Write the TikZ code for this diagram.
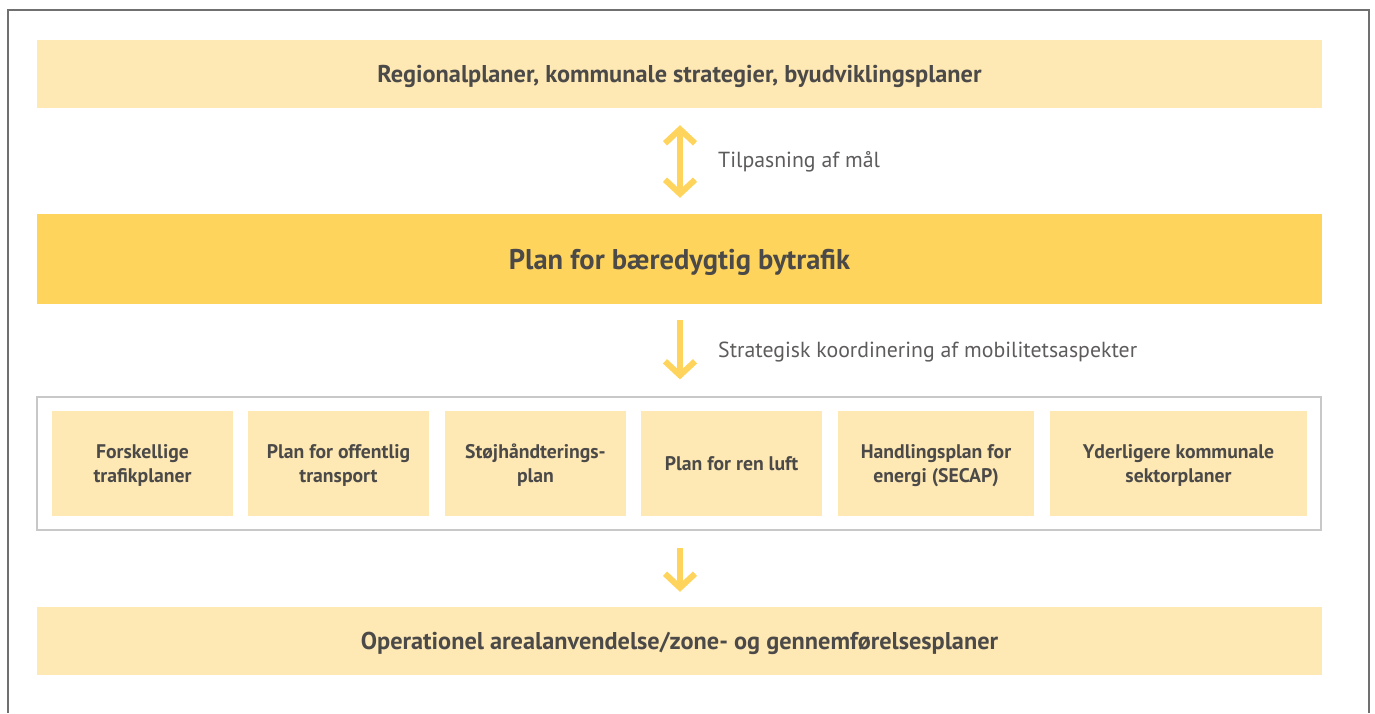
\documentclass[tikz,border=0pt]{standalone}
\usepackage{fontspec}
\setmainfont{PT Sans}
\usetikzlibrary{arrows.meta}
\definecolor{paleyellow}{HTML}{FEE8B4}
\definecolor{gold}{HTML}{FFD45C}
\definecolor{inktext}{HTML}{4B4A48}
\definecolor{labeltext}{HTML}{5E5B5B}
\definecolor{framegray}{HTML}{707070}
\definecolor{boxgray}{HTML}{C8C8C8}
\tikzset{
  band/.style={fill=paleyellow, draw=none, minimum width=1285pt, minimum height=68pt,
    inner sep=0pt, text depth=0pt, text=inktext, font=\fontsize{24.3}{28}\selectfont\bfseries},
  keyband/.style={band, fill=gold, minimum height=90pt, font=\fontsize{28.5}{33}\selectfont\bfseries},
  subplan/.style={fill=paleyellow, draw=none, minimum height=105pt, inner sep=0pt,
    text depth=0pt, text=inktext, align=center, font=\fontsize{19.7}{24}\selectfont\bfseries},
  flow/.style={draw=gold, line width=6pt, -{Straight Barb[length=14pt,width=30pt]}},
  flowboth/.style={flow, {Straight Barb[length=14pt,width=30pt]}-{Straight Barb[length=14pt,width=30pt]}},
  flowlabel/.style={anchor=west, text=labeltext, inner sep=0pt, font=\fontsize{21.8}{26}\selectfont}
}
\begin{document}
\begin{tikzpicture}[x=1pt, y=-1pt]
  \useasboundingbox (0,0) rectangle (1375,713);
  % outer frame, open at the bottom
  \draw[framegray, line width=1.3pt] (8,713) -- (8,10) -- (1369,10) -- (1369,713);

  % main bands
  \node[band] (regional) at (679.5,74) {Regionalplaner, kommunale strategier, byudviklingsplaner};
  \node[keyband] (sump) at (679.5,259) {Plan for bæredygtig bytrafik};
  \node[band] (operational) at (679.5,641) {Operationel arealanvendelse/zone- og gennemførelsesplaner};

  % container of sector plans
  \node[draw=boxgray, line width=1.2pt, minimum width=1284pt, minimum height=133pt, inner sep=0pt] (sector) at (679,463.5) {};
  \node[subplan, minimum width=181pt] (p1) at (142.5,463.5) {Forskellige\\trafikplaner};
  \node[subplan, minimum width=181pt] (p2) at (338.5,463.5) {Plan for offentlig\\transport};
  \node[subplan, minimum width=181pt] (p3) at (535.5,463.5) {Støjhåndterings-\\plan};
  \node[subplan, minimum width=181pt] (p4) at (731.5,463.5) {Plan for ren luft};
  \node[subplan, minimum width=196pt] (p5) at (936,463.5) {Handlingsplan for\\energi (SECAP)};
  \node[subplan, minimum width=257pt] (p6) at (1178.5,463.5) {Yderligere kommunale\\sektorplaner};

  % flow arrows along the central axis
  \coordinate (axis) at (680,0);
  \draw[flowboth, shorten <=17pt, shorten >=16pt] (regional.south -| axis) -- (sump.north -| axis);
  \draw[flow, shorten <=16pt, shorten >=17pt] (sump.south -| axis) -- (sector.north -| axis);
  \draw[flow, shorten <=17pt, shorten >=15pt] (sector.south -| axis) -- (operational.north -| axis);

  % arrow labels
  \node[flowlabel] (lbl1) at (718,162) {Tilpasning af mål};
  \node[flowlabel] (lbl2) at (718,352) {Strategisk koordinering af mobilitetsaspekter};
\end{tikzpicture}
\end{document}
